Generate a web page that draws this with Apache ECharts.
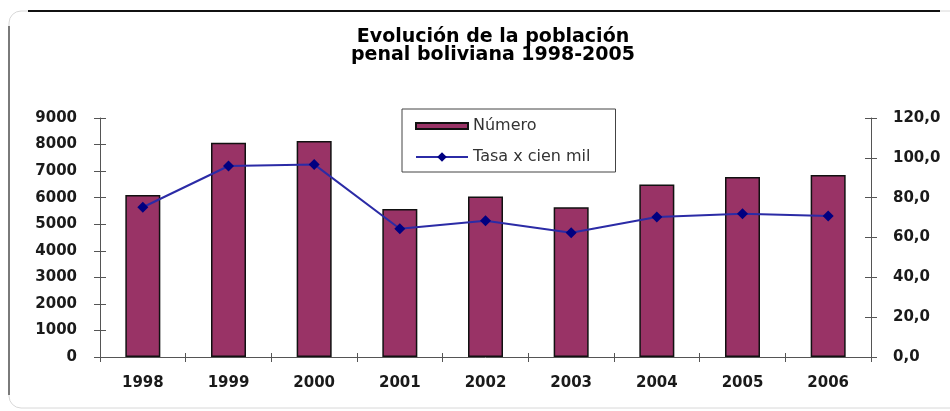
<!DOCTYPE html>
<html lang="es">
<head>
    <meta charset="UTF-8">
    <title>Evolución de la población penal boliviana</title>
    <style>
        body { margin: 0; padding: 0; background: #fff; }
        #main { width: 950px; height: 411px; }
    </style>
</head>
<body>
<div id="main"></div>
<script src="https://cdn.jsdelivr.net/npm/echarts@6/dist/echarts.min.js"></script>
<script>
    const years = ['1998', '1999', '2000', '2001', '2002', '2003', '2004', '2005', '2006'];
    const numero = [6100, 8070, 8130, 5570, 6040, 5640, 6500, 6780, 6850];
    const tasa = [75.2, 95.9, 96.7, 64.4, 68.4, 62.4, 70.3, 71.9, 70.8];

    const labelFont = { fontFamily: 'DejaVu Sans', fontSize: 15, fontWeight: 'bold', color: '#1a1a1a' };
    const axisLine = { show: true, lineStyle: { color: '#555', width: 1 } };

    const chart = echarts.init(document.getElementById('main'));

    const option = {
        backgroundColor: '#fff',
        animation: false,
        title: {
            text: 'Evolución de la población\npenal boliviana 1998-2005',
            left: 488,
            top: 23,
            textAlign: 'center',
            textStyle: { fontFamily: 'DejaVu Sans', fontSize: 19, fontWeight: 'bold', color: '#000', lineHeight: 18 }
        },
        legend: {
            orient: 'vertical',
            left: 402,
            top: 109,
            padding: [9, 25, 7, 13],
            itemGap: 15,
            itemWidth: 52,
            itemHeight: 12,
            borderColor: '#444',
            borderWidth: 1,
            textStyle: { fontFamily: 'DejaVu Sans', fontSize: 16, color: '#333' },
            data: [
                { name: 'Número', icon: 'path://M0,0 L0,0 M0,3 L52,3 L52,9 L0,9 Z M0,12 L0,12' },
                { name: 'Tasa x cien mil' }
            ]
        },
        grid: { left: 100, right: 79, top: 118, bottom: 54 },
        xAxis: [
            {
                type: 'category',
                data: years,
                axisLine: axisLine,
                axisTick: { show: true, length: 5, lineStyle: { color: '#555' } },
                axisLabel: Object.assign({ margin: 19 }, labelFont)
            },
            {
                type: 'category',
                data: years,
                position: 'bottom',
                axisLine: { show: false },
                axisTick: { show: true, inside: true, length: 4, lineStyle: { color: '#555' } },
                axisLabel: { show: false }
            }
        ],
        yAxis: [
            {
                type: 'value',
                min: 0,
                max: 9000,
                interval: 1000,
                position: 'left',
                splitLine: { show: false },
                axisLine: axisLine,
                axisTick: { show: true, length: 6, lineStyle: { color: '#555' } },
                axisLabel: Object.assign({ margin: 23, formatter: v => String(v) }, labelFont)
            },
            {
                type: 'value',
                min: 0,
                max: 120,
                interval: 20,
                position: 'right',
                splitLine: { show: false },
                axisLine: axisLine,
                axisTick: { show: true, length: 6, lineStyle: { color: '#555' } },
                axisLabel: Object.assign({
                    margin: 22,
                    formatter: v => v.toFixed(1).replace('.', ',')
                }, labelFont)
            },
            {
                type: 'value',
                min: 0,
                max: 9000,
                interval: 1000,
                position: 'left',
                splitLine: { show: false },
                axisLine: { show: false },
                axisTick: { show: true, inside: true, length: 6, lineStyle: { color: '#555' } },
                axisLabel: { show: false }
            },
            {
                type: 'value',
                min: 0,
                max: 120,
                interval: 20,
                position: 'right',
                splitLine: { show: false },
                axisLine: { show: false },
                axisTick: { show: true, inside: true, length: 6, lineStyle: { color: '#555' } },
                axisLabel: { show: false }
            }
        ],
        series: [
            {
                name: 'Número',
                type: 'bar',
                yAxisIndex: 0,
                barWidth: 35,
                data: numero,
                itemStyle: { color: '#993366', borderColor: '#111', borderWidth: 1.5 }
            },
            {
                name: 'Tasa x cien mil',
                type: 'line',
                yAxisIndex: 1,
                data: tasa,
                symbol: 'diamond',
                symbolSize: 11,
                lineStyle: { color: '#2b2ba6', width: 2 },
                itemStyle: { color: '#000080' }
            }
        ],
        graphic: [
            {
                type: 'rect',
                shape: { x: 9, y: 11, width: 960, height: 397, r: 12 },
                style: { fill: 'none', stroke: '#d8d8d8', lineWidth: 1 },
                silent: true
            },
            {
                type: 'line',
                shape: { x1: 28, y1: 11, x2: 940, y2: 11 },
                style: { stroke: '#111', lineWidth: 2 },
                silent: true
            },
            {
                type: 'line',
                shape: { x1: 9, y1: 26, x2: 9, y2: 395 },
                style: { stroke: '#555', lineWidth: 1.5 },
                silent: true
            }
        ]
    };

    chart.setOption(option);
</script>
</body>
</html>
